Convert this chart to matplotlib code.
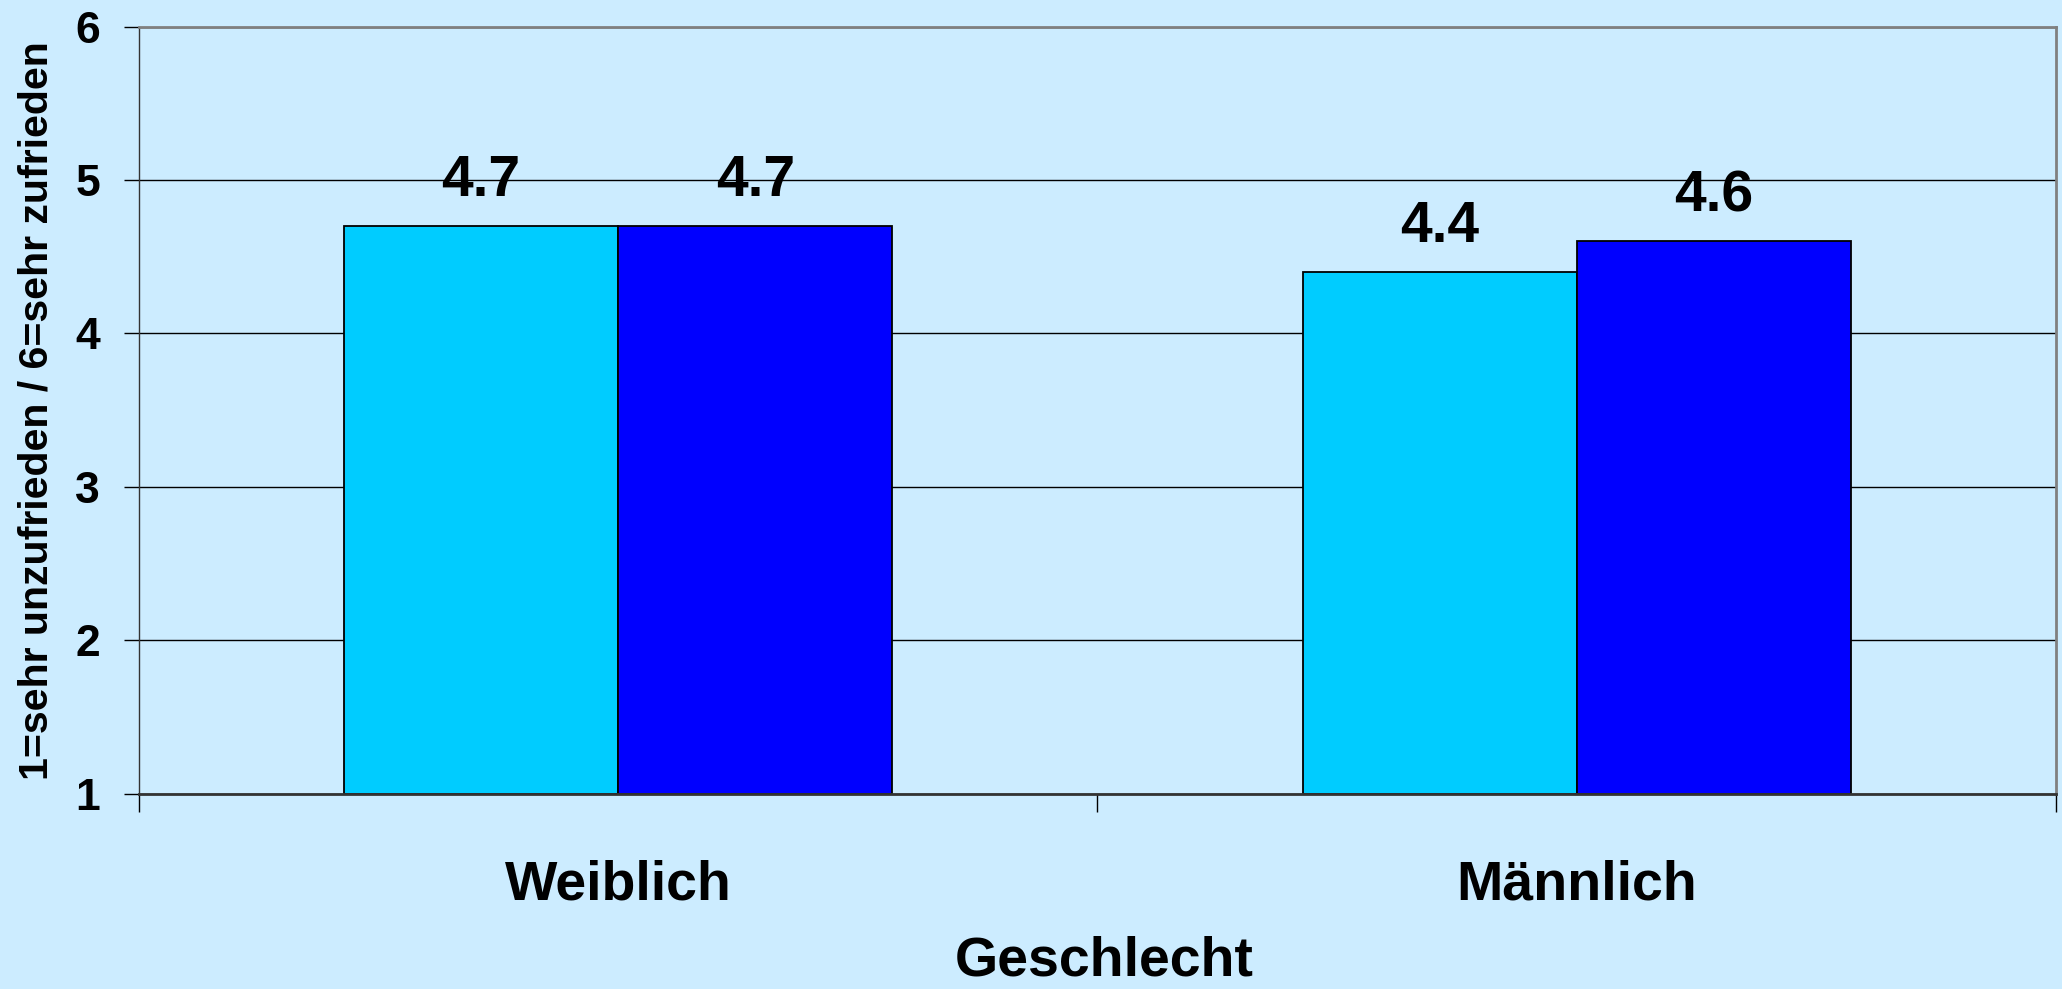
import numpy as np
import matplotlib
matplotlib.use("Agg")
import matplotlib.pyplot as plt

# data
categories = ["Weiblich", "Männlich"]
series_1 = [4.7, 4.4]   # light blue bars
series_2 = [4.7, 4.6]   # dark blue bars
y_ticks = [1, 2, 3, 4, 5, 6]

bg = "#CCECFF"
col_1 = "#00CCFF"
col_2 = "#0000FF"

plt.rcParams["font.family"] = ["Liberation Sans", "DejaVu Sans"]
plt.rcParams["font.weight"] = "bold"

fig = plt.figure(figsize=(20.62, 9.89), dpi=100, facecolor=bg)
ax = fig.add_axes([0.0674, 0.1972, 0.9297, 0.776], facecolor=bg)

x = np.arange(len(categories))
w = 0.286
b1 = ax.bar(x - w / 2, np.array(series_1) - 1, w, bottom=1, color=col_1,
            edgecolor="black", linewidth=1.3, zorder=3)
b2 = ax.bar(x + w / 2, np.array(series_2) - 1, w, bottom=1, color=col_2,
            edgecolor="black", linewidth=1.3, zorder=3)

# value labels above the bars
for vals, bars in [(series_1, b1), (series_2, b2)]:
    for v, r in zip(vals, bars):
        ax.annotate(f"{v:.1f}", (r.get_x() + r.get_width() / 2, v),
                    xytext=(0, 13), textcoords="offset points",
                    ha="center", va="bottom", fontsize=41, fontweight="bold")

ax.set_ylim(1, 6)
ax.set_xlim(-0.5, len(categories) - 0.5)
ax.set_yticks(y_ticks)
ax.set_yticklabels([str(t) for t in y_ticks])
ax.tick_params(axis="y", direction="out", length=11, width=1, pad=17,
               labelsize=32, colors="black")

# category labels in the middle, tick marks on the boundaries
ax.set_xticks(x)
ax.set_xticklabels(categories)
ax.set_xticks(np.arange(-0.5, len(categories)), minor=True)
ax.tick_params(axis="x", which="major", length=0, pad=47, labelsize=40)
ax.tick_params(axis="x", which="minor", direction="out", length=13, width=1)

ax.yaxis.grid(True, color="black", linewidth=1)
ax.set_axisbelow(True)

ax.spines["top"].set_color("#808080")
ax.spines["top"].set_linewidth(2)
ax.spines["right"].set_color("#808080")
ax.spines["right"].set_linewidth(2)
ax.spines["left"].set_color("#333333")
ax.spines["left"].set_linewidth(1)
ax.spines["bottom"].set_color("#333333")
ax.spines["bottom"].set_linewidth(2)
for s in ax.spines.values():
    s.set_zorder(4)

ax.set_xlabel("Geschlecht", fontsize=40, fontweight="bold")
ax.xaxis.set_label_coords(0.5035, -0.185)
ax.set_ylabel("1=sehr unzufrieden / 6=sehr zufrieden", fontsize=29.6,
              fontweight="bold")
ax.yaxis.set_label_coords(-0.0435, 0.5)

fig.savefig("out.png", dpi=100, facecolor=bg)
